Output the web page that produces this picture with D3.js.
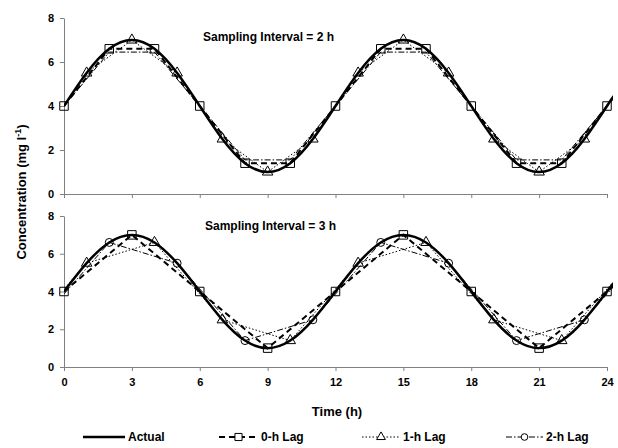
<!DOCTYPE html>
<meta charset="utf-8">
<style>
body {
  margin: 0;
  background: #fff;
  font-family: "Liberation Sans", Arial, sans-serif;
}
text {
  font-weight: bold;
  fill: #000;
}
.axis path, .axis line {
  stroke: #808080;
  stroke-width: 1;
}
.axis text {
  font-size: 11px;
  font-family: "Liberation Sans", Arial, sans-serif;
}
</style>
<body>
<script src="https://cdn.jsdelivr.net/npm/d3@7"></script>
<script>

var width = 618,
    height = 448;

var actualT = [0, 1, 2, 3, 4, 5, 6, 7, 8, 9, 10, 11, 12, 13, 14, 15, 16, 17, 18, 19, 20, 21, 22, 23, 24, 24.3];
var actualC = [4, 5.5, 6.6, 7, 6.6, 5.5, 4, 2.5, 1.4, 1, 1.4, 2.5, 4, 5.5, 6.6, 7, 6.6, 5.5, 4, 2.5, 1.4, 1, 1.4, 2.5, 4, 4.45];

// sampling interval = 2 h
var top0T = [0, 2, 4, 6, 8, 10, 12, 14, 16, 18, 20, 22, 24, 26];
var top0C = [4, 6.6, 6.6, 4, 1.4, 1.4, 4, 6.6, 6.6, 4, 1.4, 1.4, 4, 6.6];
var top1T = [-1, 1, 3, 5, 7, 9, 11, 13, 15, 17, 19, 21, 23, 25];
var top1C = [2.5, 5.5, 7, 5.5, 2.5, 1, 2.5, 5.5, 7, 5.5, 2.5, 1, 2.5, 5.5];
var top2T = [0, 2, 4, 6, 8, 10, 12, 14, 16, 18, 20, 22, 24, 26];
var top2C = [4, 6.45, 6.45, 4, 1.55, 1.55, 4, 6.45, 6.45, 4, 1.55, 1.55, 4, 6.45];

// sampling interval = 3 h
var bot0T = [0, 3, 6, 9, 12, 15, 18, 21, 24, 27];
var bot0C = [4, 7, 4, 1, 4, 7, 4, 1, 4, 7];
var bot1T = [-2, 1, 4, 7, 10, 13, 16, 19, 22, 25];
var bot1C = [1.4, 5.5, 6.6, 2.5, 1.4, 5.5, 6.6, 2.5, 1.4, 5.5];
var bot2T = [-1, 2, 5, 8, 11, 14, 17, 20, 23, 26];
var bot2C = [2.5, 6.6, 5.5, 1.4, 2.5, 6.6, 5.5, 1.4, 2.5, 6.6];

var xTicks = [0, 3, 6, 9, 12, 15, 18, 21, 24];
var yTicks = [0, 2, 4, 6, 8];
var legendNames = ["Actual", "0-h Lag", "1-h Lag", "2-h Lag"];

function zip(t, c) {
  return t.map(function(d, i) { return {t: d, c: c[i]}; });
}

var styles = {
  actual: {width: 2.5, dash: null},
  lag0: {width: 2, dash: "6,4", symbol: d3.symbolSquare, size: 72},
  lag1: {width: 1, dash: "1.5,2", symbol: d3.symbolTriangle, size: 48},
  lag2: {width: 1, dash: "6,2,1.5,2", symbol: d3.symbolCircle, size: 50}
};

var x = d3.scaleLinear().domain([0, 24]).range([64, 607]);

var svg = d3.select("body").append("svg")
    .attr("width", width)
    .attr("height", height);

svg.append("defs").append("clipPath")
    .attr("id", "clip")
  .append("rect")
    .attr("x", x(0))
    .attr("y", 0)
    .attr("width", 613 - x(0))
    .attr("height", height);

var panels = [
  {range: [194, 18], title: "Sampling Interval = 2 h", tx: 203, ty: 41, labels: false,
   series: [
     {data: zip(top2T, top2C), style: styles.lag2, marks: false},
     {data: zip(top1T, top1C), style: styles.lag1, marks: true},
     {data: zip(top0T, top0C), style: styles.lag0, marks: true}
   ]},
  {range: [367, 216], title: "Sampling Interval = 3 h", tx: 205, ty: 230, labels: true,
   series: [
     {data: zip(bot2T, bot2C), style: styles.lag2, marks: true},
     {data: zip(bot1T, bot1C), style: styles.lag1, marks: true},
     {data: zip(bot0T, bot0C), style: styles.lag0, marks: true}
   ]}
];

panels.forEach(function(p) {
  var y = d3.scaleLinear().domain([0, 8]).range(p.range);

  var line = d3.line()
      .x(function(d) { return x(d.t); })
      .y(function(d) { return y(d.c); });

  var smooth = d3.line()
      .curve(d3.curveNatural)
      .x(function(d) { return x(d.t); })
      .y(function(d) { return y(d.c); });

  svg.append("g")
      .attr("class", "axis")
      .attr("transform", "translate(0," + y(0) + ")")
      .call(d3.axisBottom(x).tickValues(xTicks).tickSize(4).tickSizeOuter(0)
        .tickFormat(p.labels ? d3.format("d") : function() { return ""; }))
      .call(function(g) { g.selectAll("text").attr("dy", "1.05em"); });

  svg.append("g")
      .attr("class", "axis")
      .attr("transform", "translate(" + x(0) + ",0)")
      .call(d3.axisLeft(y).tickValues(yTicks).tickSize(4).tickSizeOuter(0).tickPadding(6));

  var plot = svg.append("g").attr("clip-path", "url(#clip)");

  p.series.forEach(function(s) {
    plot.append("path")
        .datum(s.data)
        .attr("fill", "none")
        .attr("stroke", "#000")
        .attr("stroke-width", s.style.width)
        .attr("stroke-dasharray", s.style.dash)
        .attr("d", line);
  });

  plot.append("path")
      .datum(zip(actualT, actualC))
      .attr("fill", "none")
      .attr("stroke", "#000")
      .attr("stroke-width", styles.actual.width)
      .attr("d", smooth);

  p.series.forEach(function(s) {
    if (!s.marks) return;
    svg.append("g").selectAll("path")
        .data(s.data.filter(function(d) { return d.t >= 0 && d.t <= 24; }))
      .enter().append("path")
        .attr("transform", function(d) { return "translate(" + x(d.t) + "," + y(d.c) + ")"; })
        .attr("d", d3.symbol().type(s.style.symbol).size(s.style.size))
        .attr("fill", "none")
        .attr("stroke", "#000")
        .attr("stroke-width", 1);
  });

  svg.append("text")
      .attr("x", p.tx)
      .attr("y", p.ty)
      .style("font-size", "12px")
      .text(p.title);
});

// axis titles
svg.append("text")
    .attr("x", 337)
    .attr("y", 416)
    .attr("text-anchor", "middle")
    .style("font-size", "13px")
    .text("Time (h)");

var yl = svg.append("text")
    .attr("transform", "translate(26,192) rotate(-90)")
    .attr("text-anchor", "middle")
    .style("font-size", "13px");
yl.append("tspan").text("Concentration (mg l");
yl.append("tspan").attr("baseline-shift", "super").style("font-size", "9px").text("-1");
yl.append("tspan").text(")");

// legend
var legendItems = [
  {x0: 83, x1: 125, style: styles.actual},
  {x0: 219, x1: 258, style: styles.lag0},
  {x0: 362, x1: 400, style: styles.lag1},
  {x0: 506, x1: 543, style: styles.lag2}
];

var ly = 437;
var legend = svg.append("g");

legendItems.forEach(function(d, i) {
  legend.append("line")
      .attr("x1", d.x0).attr("x2", d.x1)
      .attr("y1", ly).attr("y2", ly)
      .attr("stroke", "#000")
      .attr("stroke-width", d.style.width)
      .attr("stroke-dasharray", d.style.dash);
  if (d.style.symbol) {
    legend.append("path")
        .attr("transform", "translate(" + (d.x0 + d.x1) / 2 + "," + ly + ")")
        .attr("d", d3.symbol().type(d.style.symbol).size(d.style.size * 0.7))
        .attr("fill", "#fff")
        .attr("stroke", "#000");
  }
  legend.append("text")
      .attr("x", d.x1 + 3)
      .attr("y", ly + 4)
      .style("font-size", "12px")
      .text(legendNames[i]);
});

</script>
</body>
